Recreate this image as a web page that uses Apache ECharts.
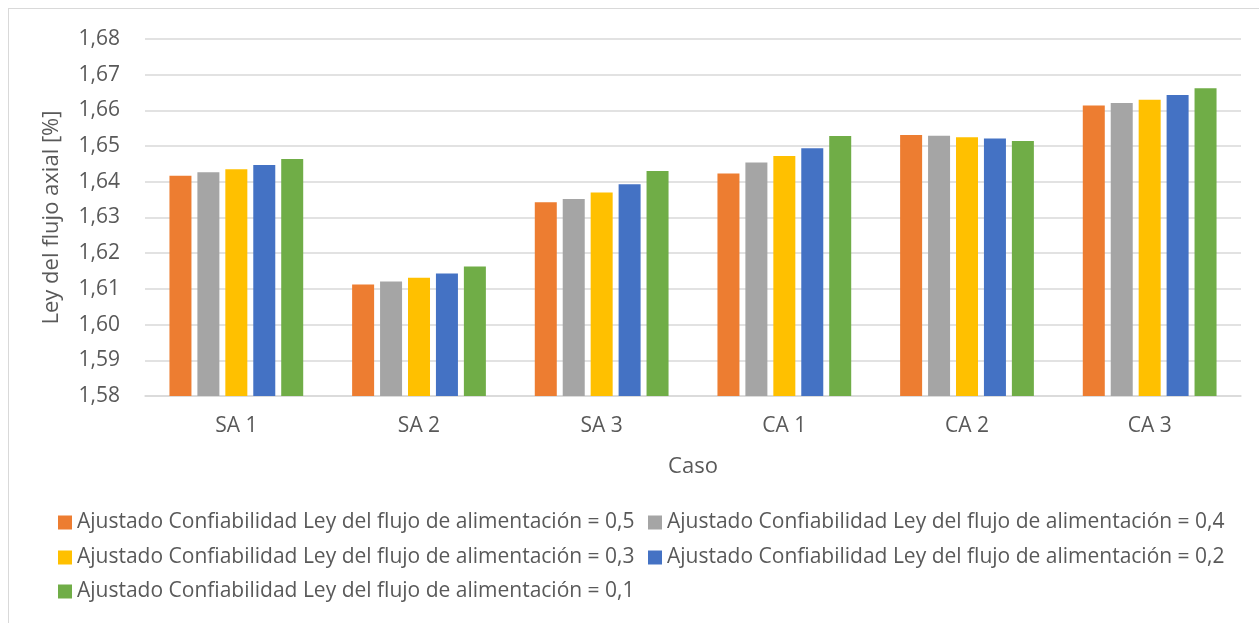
<!DOCTYPE html>
<html><head><meta charset="utf-8">
<script src="https://cdn.jsdelivr.net/npm/echarts@6/dist/echarts.min.js"></script>
<style>
html,body{margin:0;padding:0;background:#fff;}
#frame{position:absolute;left:8px;top:8px;width:1251px;height:615px;border-left:1px solid #d9d9d9;border-top:1px solid #d9d9d9;box-sizing:border-box;}
#c{position:absolute;left:0;top:0;width:1259px;height:623px;}
</style></head>
<body><div id="frame"></div><div id="c"></div>
<script>
const categories = ['SA 1','SA 2','SA 3','CA 1','CA 2','CA 3'];
const seriesNames = [
  'Ajustado Confiabilidad Ley del flujo de alimentación = 0,5',
  'Ajustado Confiabilidad Ley del flujo de alimentación = 0,4',
  'Ajustado Confiabilidad Ley del flujo de alimentación = 0,3',
  'Ajustado Confiabilidad Ley del flujo de alimentación = 0,2',
  'Ajustado Confiabilidad Ley del flujo de alimentación = 0,1'
];
const s05 = [1.6417, 1.6112, 1.6343, 1.6423, 1.6531, 1.6614];
const s04 = [1.6427, 1.6121, 1.6352, 1.6454, 1.6529, 1.6621];
const s03 = [1.6435, 1.6131, 1.6370, 1.6472, 1.6525, 1.6630];
const s02 = [1.6447, 1.6143, 1.6393, 1.6494, 1.6521, 1.6643];
const s01 = [1.6464, 1.6163, 1.6430, 1.6528, 1.6514, 1.6662];
const colors = ['#ED7D31','#A5A5A5','#FFC000','#4472C4','#70AD47'];
const values = [s05, s04, s03, s02, s01];

const FONT = 'Open Sans';
const chart = echarts.init(document.getElementById('c'));
const legendPos = [[58,512],[648,512],[58,547],[648,547],[58,581]];
chart.setOption({
  animation:false,
  textStyle:{fontFamily:FONT},
  grid:{left:145,right:18,top:39,bottom:227},
  legend: seriesNames.map((n,i)=>({
    data:[n], left:legendPos[i][0], top:legendPos[i][1], padding:0,
    itemWidth:14, itemHeight:14, icon:'rect', itemGap:5,
    textStyle:{color:'#595959', fontSize:21, fontFamily:FONT}
  })),
  xAxis:{
    type:'category', data:categories,
    name:'Caso', nameLocation:'middle', nameGap:60,
    nameTextStyle:{color:'#595959', fontSize:22, fontFamily:FONT},
    axisLine:{lineStyle:{color:'#d9d9d9', width:1.5}},
    axisTick:{show:false},
    axisLabel:{color:'#595959', fontSize:21, margin:20, fontFamily:FONT}
  },
  yAxis:{
    type:'value', min:1.58, max:1.68, interval:0.01,
    name:'Ley del flujo axial [%]', nameLocation:'middle', nameGap:82,
    nameTextStyle:{color:'#595959', fontSize:22, fontFamily:FONT},
    axisLine:{show:false}, axisTick:{show:false},
    splitLine:{lineStyle:{color:'#d9d9d9', width:1.5}},
    axisLabel:{color:'#595959', fontSize:21, margin:25, fontFamily:FONT,
      formatter:v=>v.toFixed(2).replace('.',',')}
  },
  series: values.map((d,i)=>({
    name:seriesNames[i], type:'bar', data:d,
    barWidth:22, barGap:'27%', barCategoryGap:'27%',
    itemStyle:{color:colors[i]}
  }))
});
</script></body></html>
